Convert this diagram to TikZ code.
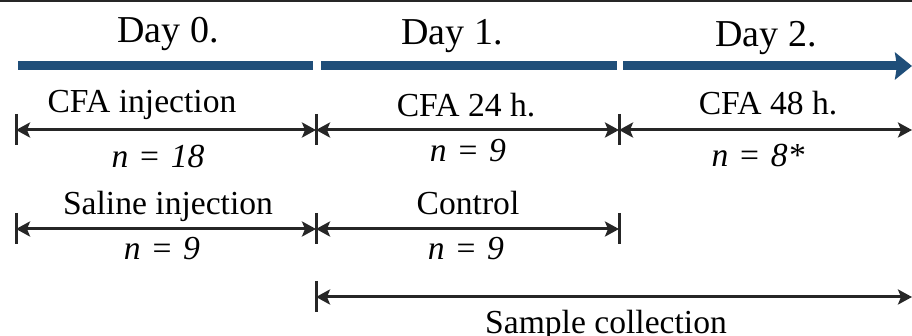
\documentclass[tikz,border=0pt]{standalone}
\usepackage{fontspec}
\setmainfont{Liberation Serif}
\usepackage{tikz}
\usetikzlibrary{arrows.meta}
\usepackage{xcolor}
\definecolor{barblue}{HTML}{1F4E79}
\definecolor{spangray}{HTML}{262626}
\newcommand{\nis}[1]{\textit{n}\hspace{.35em}=\hspace{.35em}\textit{#1}}

\begin{document}
\begin{tikzpicture}[x=1pt,y=-1pt,
	day/.style={anchor=base,inner sep=0pt,font=\fontsize{38}{44}\selectfont},
	lbl/.style={anchor=base,inner sep=0pt,font=\fontsize{33.6}{40}\selectfont},
	bar/.style={line width=9pt,barblue},
	span/.style={line width=3pt,spangray,{Stealth[length=14pt,width=15pt,inset=3pt]}-{Stealth[length=14pt,width=15pt,inset=3pt]}},
	tick/.style={line width=3pt,spangray}]
	\useasboundingbox (0,0) rectangle (912,336);
	\draw[line width=2.5pt,spangray] (0,1) -- (912,1);
	% time line
	\coordinate (b0) at (18,66);
	\coordinate (b1) at (313,66);
	\coordinate (b2) at (321,66);
	\coordinate (b3) at (617,66);
	\coordinate (b4) at (623,66);
	\coordinate (b5) at (912,66);
	\draw[bar] (b0) -- (b1);
	\draw[bar] (b2) -- (b3);
	\draw[bar,-{Stealth[length=17pt,width=27pt,inset=2pt]}] (b4) -- (b5);
	\node[day] (d0) at (168,43) {Day 0.};
	\node[day] (d1) at (452,45) {Day 1.};
	\node[day] (d2) at (766,47) {Day 2.};
	% groups
	\coordinate (a0) at (16,130);
	\coordinate (a1) at (316,130);
	\coordinate (a2) at (619,130);
	\coordinate (a3) at (912,130);
	\coordinate (s0) at (16,229);
	\coordinate (s1) at (316,229);
	\coordinate (s2) at (619,229);
	\coordinate (c0) at (316,297);
	\coordinate (c1) at (912,297);
	\foreach \p in {a0,a1,a2,s0,s1,s2,c0}
		\draw[tick] (\p) ++(0,-16) -- ++(0,31);
	\path[span]
	(a0) edge (a1)
	(a1) edge (a2)
	(a2) edge (a3)
	(s0) edge (s1)
	(s1) edge (s2)
	(c0) edge (c1);
	\node[lbl] (cfa) at (142,113) {CFA injection};
	\node[lbl] (n18) at (158,168) {\nis{18}};
	\node[lbl] (cfa24) at (466,117) {CFA 24 h.};
	\node[lbl] (n9a) at (468,162) {\nis{9}};
	\node[lbl] (cfa48) at (768,115) {CFA 48 h.};
	\node[lbl] (n8) at (758,167) {\nis{8*}};
	\node[lbl] (sal) at (168,215) {Saline injection};
	\node[lbl] (n9b) at (162,260) {\nis{9}};
	\node[lbl] (ctrl) at (468,215) {Control};
	\node[lbl] (n9c) at (466,260) {\nis{9}};
	\node[lbl] (coll) at (606,334) {Sample collection};
\end{tikzpicture}
\end{document}
